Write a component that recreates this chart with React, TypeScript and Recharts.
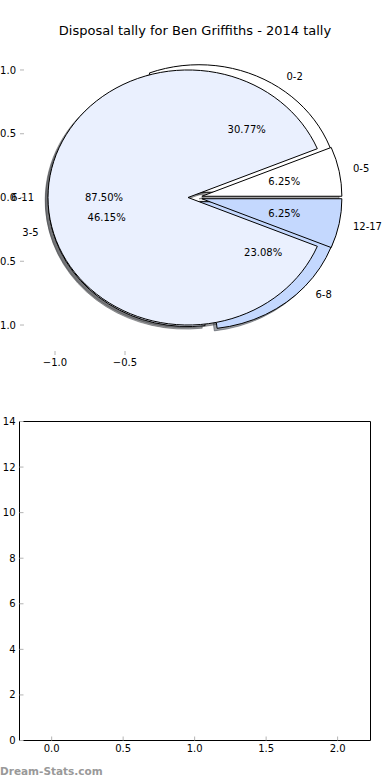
import React from 'react';
import { PieChart, Pie, ScatterChart, XAxis, YAxis } from 'recharts';

// ---------- data ----------
const chartTitle = 'Disposal tally for Ben Griffiths - 2014 tally';
const watermark = 'Dream-Stats.com';

// upper pie (drawn on top)
const tallyBandsA = ['0-5', '6-11', '12-17'];
const tallyCountsA = [1, 14, 1];
// lower pie (drawn underneath)
const tallyBandsB = ['0-2', '3-5', '6-8'];
const tallyCountsB = [4, 6, 3];

const sliceColours = ['#ffffff', '#eaf0fe', '#c4d8fe'];

const pieXTicks = [-1, -0.5];
const pieYTicks = [-1, -0.5, 0, 0.5, 1];
const pieXDomain: [number, number] = [-1.25, 1.25];
const pieYDomain: [number, number] = [-1.235, 1.235];

const emptyXTicks = [0, 0.5, 1, 1.5, 2];
const emptyYTicks = [0, 2, 4, 6, 8, 10, 12, 14];
const emptyXDomain: [number, number] = [-0.225, 2.23];
const emptyYDomain: [number, number] = [0, 14];

const pieDataA = tallyBandsA.map((name, i) => ({ name, value: tallyCountsA[i] }));
const pieDataB = tallyBandsB.map((name, i) => ({ name, value: tallyCountsB[i] }));

// ---------- layout ----------
const W = 390;
const FONT = '"DejaVu Sans", Verdana, sans-serif';
const TOP_H = 390;
const TOP_MARGIN = { top: 39, right: 19, bottom: 0, left: 0 };
const TOP_YAXIS_W = 20;
const TOP_XAXIS_H = 35;
const EDGE_AXIS = 1; // size of the tick-only top / right axes
const plotLeft = TOP_MARGIN.left + TOP_YAXIS_W;
const plotRight = W - TOP_MARGIN.right - EDGE_AXIS;
const plotTop = TOP_MARGIN.top + EDGE_AXIS;
const plotBottom = TOP_H - TOP_MARGIN.bottom - TOP_XAXIS_H;
const pxPerX = (plotRight - plotLeft) / (pieXDomain[1] - pieXDomain[0]);
const pxPerY = (plotBottom - plotTop) / (pieYDomain[1] - pieYDomain[0]);
const pieCx = plotLeft + (0 - pieXDomain[0]) * pxPerX;
const pieCy = plotTop + (pieYDomain[1] - 0) * pxPerY;
const KY = pxPerY / pxPerX;

const BOT_TOP = 400;
const BOT_H = 380;

const RAD = Math.PI / 180;
const EXPLODE = 0.05;
const SHADOW_OFF = 0.02;
const TICK_GREY = '#b4b4b4';

const fmt1 = (v: number) => (v < 0 ? '\u2212' : '') + Math.abs(v).toFixed(1);
const fmt0 = (v: number) => String(v);

function shade(hex: string) {
  const r = parseInt(hex.slice(1, 3), 16);
  const g = parseInt(hex.slice(3, 5), 16);
  const b = parseInt(hex.slice(5, 7), 16);
  return `rgba(${Math.round(r * 0.3)},${Math.round(g * 0.3)},${Math.round(b * 0.3)},0.5)`;
}

function wedgeD(cx: number, cy: number, rx: number, ry: number, a0: number, a1: number) {
  const x1 = cx + rx * Math.cos(a0 * RAD);
  const y1 = cy - ry * Math.sin(a0 * RAD);
  const x2 = cx + rx * Math.cos(a1 * RAD);
  const y2 = cy - ry * Math.sin(a1 * RAD);
  const large = Math.abs(a1 - a0) > 180 ? 1 : 0;
  return `M${cx},${cy} L${x1},${y1} A${rx},${ry} 0 ${large} 0 ${x2},${y2} Z`;
}

function geom(p: any) {
  const rx = p.outerRadius;
  const ry = rx * KY;
  const m = p.midAngle * RAD;
  const cx = typeof p.cx === 'number' ? p.cx : pieCx;
  const cy = typeof p.cy === 'number' ? p.cy : pieCy;
  const ex = cx + EXPLODE * rx * Math.cos(m);
  const ey = cy - EXPLODE * ry * Math.sin(m);
  return { rx, ry, ex, ey, m };
}

const renderShadow = (p: any) => {
  const { rx, ry, ex, ey } = geom(p);
  const c = shade(sliceColours[p.index % sliceColours.length]);
  return (
    <path
      key={`s${p.index}`}
      d={wedgeD(ex - SHADOW_OFF * rx, ey + SHADOW_OFF * ry, rx, ry, p.startAngle, p.endAngle)}
      fill={c}
      stroke={c}
      strokeWidth={1}
    />
  );
};

const renderWedge = (p: any) => {
  const { rx, ry, ex, ey } = geom(p);
  return (
    <path
      key={`w${p.index}`}
      d={wedgeD(ex, ey, rx, ry, p.startAngle, p.endAngle)}
      fill={sliceColours[p.index % sliceColours.length]}
      stroke="#000"
      strokeWidth={1}
      strokeLinejoin="miter"
    />
  );
};

const renderText = (p: any) => {
  const { rx, ry, ex, ey, m } = geom(p);
  const c = Math.cos(m);
  const s = Math.sin(m);
  return (
    <g key={`t${p.index}`}>
      <text
        x={ex + 1.1 * rx * c}
        y={ey - 1.1 * ry * s}
        textAnchor={c > 0 ? 'start' : 'end'}
        dominantBaseline="central"
        fontSize={10}
        fontFamily={FONT}
        fill="#000"
      >
        {p.name}
      </text>
      <text
        x={ex + 0.6 * rx * c}
        y={ey - 0.6 * ry * s}
        textAnchor="middle"
        dominantBaseline="central"
        fontSize={10}
        fontFamily={FONT}
        fill="#000"
      >
        {(p.percent * 100).toFixed(2)}%
      </text>
    </g>
  );
};

const tickStyle = { fill: '#000', fontSize: 10, fontFamily: FONT };

export default function App() {
  const pieCommon = {
    dataKey: 'value',
    nameKey: 'name',
    cx: pieCx,
    cy: pieCy,
    outerRadius: pxPerX,
    innerRadius: 0,
    startAngle: 0,
    endAngle: 360,
    fill: 'none',
    stroke: 'none',
    labelLine: false,
    isAnimationActive: false,
  };
  return (
    <div
      style={{
        position: 'absolute',
        left: 0,
        top: 0,
        width: W,
        height: 780,
        background: '#fff',
        overflow: 'hidden',
        fontFamily: FONT,
      }}
    >
      {/* axes of the pie panel */}
      <div style={{ position: 'absolute', left: 0, top: 0 }}>
        <ScatterChart width={W} height={TOP_H} margin={TOP_MARGIN}>
          <XAxis
            xAxisId="b"
            type="number"
            dataKey="x"
            orientation="bottom"
            domain={pieXDomain}
            allowDataOverflow
            ticks={pieXTicks}
            interval={0}
            tickFormatter={fmt1}
            height={TOP_XAXIS_H}
            axisLine={false}
            tickLine={{ stroke: TICK_GREY }}
            tickSize={-4}
            tickMargin={8}
            tick={tickStyle}
          />
          <XAxis
            xAxisId="t"
            type="number"
            dataKey="x"
            orientation="top"
            domain={pieXDomain}
            allowDataOverflow
            ticks={pieXTicks}
            interval={0}
            height={EDGE_AXIS}
            axisLine={false}
            tickLine={{ stroke: TICK_GREY }}
            tickSize={-4}
            tick={false}
          />
          <YAxis
            yAxisId="l"
            type="number"
            dataKey="y"
            orientation="left"
            domain={pieYDomain}
            allowDataOverflow
            ticks={pieYTicks}
            interval={0}
            tickFormatter={fmt1}
            width={TOP_YAXIS_W}
            axisLine={false}
            tickLine={{ stroke: TICK_GREY }}
            tickSize={-4}
            tickMargin={8}
            tick={tickStyle}
          />
          <YAxis
            yAxisId="r"
            type="number"
            dataKey="y"
            orientation="right"
            domain={pieYDomain}
            allowDataOverflow
            ticks={pieYTicks}
            interval={0}
            width={EDGE_AXIS}
            axisLine={false}
            tickLine={{ stroke: TICK_GREY }}
            tickSize={-4}
            tick={false}
          />
        </ScatterChart>
      </div>

      {/* the two overlaid pies */}
      <div style={{ position: 'absolute', left: 0, top: 0 }}>
        <PieChart width={W} height={TOP_H} margin={{ top: 0, right: 0, bottom: 0, left: 0 }}>
          <Pie {...pieCommon} data={pieDataB} label={renderShadow} />
          <Pie {...pieCommon} data={pieDataA} label={renderShadow} />
          <Pie {...pieCommon} data={pieDataB} label={renderWedge} />
          <Pie {...pieCommon} data={pieDataA} label={renderWedge} />
          <Pie {...pieCommon} data={pieDataB} label={renderText} />
          <Pie {...pieCommon} data={pieDataA} label={renderText} />
        </PieChart>
      </div>

      {/* empty lower panel */}
      <div style={{ position: 'absolute', left: 0, top: BOT_TOP }}>
        <ScatterChart width={W} height={BOT_H} margin={{ top: 20.5, right: 18.5, bottom: 0, left: 0 }}>
          <XAxis
            xAxisId="b"
            type="number"
            dataKey="x"
            orientation="bottom"
            domain={emptyXDomain}
            allowDataOverflow
            ticks={emptyXTicks}
            interval={0}
            tickFormatter={fmt1}
            height={39.5}
            axisLine={{ stroke: '#000' }}
            tickLine={{ stroke: TICK_GREY }}
            tickSize={-4}
            tickMargin={8}
            tick={tickStyle}
          />
          <XAxis
            xAxisId="t"
            type="number"
            dataKey="x"
            orientation="top"
            domain={emptyXDomain}
            allowDataOverflow
            ticks={emptyXTicks}
            interval={0}
            height={EDGE_AXIS}
            axisLine={{ stroke: '#000' }}
            tickLine={{ stroke: TICK_GREY }}
            tickSize={-4}
            tick={false}
          />
          <YAxis
            yAxisId="l"
            type="number"
            dataKey="y"
            orientation="left"
            domain={emptyYDomain}
            allowDataOverflow
            ticks={emptyYTicks}
            interval={0}
            tickFormatter={fmt0}
            width={19.5}
            axisLine={{ stroke: '#000' }}
            tickLine={{ stroke: TICK_GREY }}
            tickSize={-4}
            tickMargin={8}
            tick={tickStyle}
          />
          <YAxis
            yAxisId="r"
            type="number"
            dataKey="y"
            orientation="right"
            domain={emptyYDomain}
            allowDataOverflow
            ticks={emptyYTicks}
            interval={0}
            width={EDGE_AXIS}
            axisLine={{ stroke: '#000' }}
            tickLine={{ stroke: TICK_GREY }}
            tickSize={-4}
            tick={false}
          />
        </ScatterChart>
      </div>

      {/* title and watermark */}
      <svg
        width={W}
        height={780}
        style={{ position: 'absolute', left: 0, top: 0, pointerEvents: 'none' }}
      >
        <text x={W / 2} y={35} textAnchor="middle" fontSize={13} fontFamily={FONT} fill="#000">
          {chartTitle}
        </text>
        <text x={0} y={775} fontSize={10.5} fontFamily={FONT} fill="#999" fontWeight="bold">
          {watermark}
        </text>
      </svg>
    </div>
  );
}
